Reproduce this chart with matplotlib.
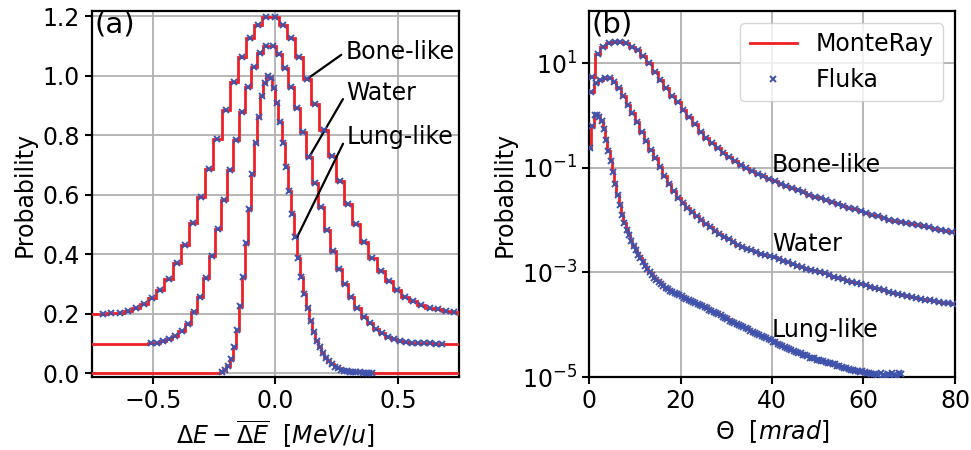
import numpy as np
import matplotlib
matplotlib.use("Agg")
import matplotlib.pyplot as plt

plt.rcParams["font.family"] = ["DejaVu Sans"]
plt.rcParams["font.size"] = 17
plt.rcParams["mathtext.fontset"] = "dejavusans"

RED = "#ee2026"
BLUE = "#3f53ad"

# ---------------- Panel (a): energy-loss straggling ----------------
# first bin centre and bin width (MeV/u)
bone_a_start, bone_a_width = -0.7037, 1 / 30
water_a_start, water_a_width = -0.508, 0.0248
lung_a_start, lung_a_width = -0.219, 0.0125
bone_a_offset, water_a_offset, lung_a_offset = 0.2, 0.1, 0.0

bone_a = [0.201, 0.202, 0.204, 0.210, 0.219, 0.232, 0.252, 0.280, 0.318, 0.371,
          0.431, 0.506, 0.594, 0.688, 0.788, 0.885, 0.979, 1.062, 1.126, 1.171,
          1.199, 1.199, 1.171, 1.126, 1.062, 0.988, 0.906, 0.819, 0.732, 0.647,
          0.570, 0.502, 0.440, 0.389, 0.345, 0.310, 0.280, 0.258, 0.243, 0.230,
          0.221, 0.215, 0.209, 0.205]
water_a = [0.101, 0.103, 0.108, 0.114, 0.126, 0.143, 0.166, 0.207, 0.258, 0.319,
           0.395, 0.484, 0.582, 0.683, 0.785, 0.879, 0.963, 1.031, 1.076, 1.100,
           1.100, 1.074, 1.025, 0.961, 0.891, 0.810, 0.726, 0.640, 0.560, 0.482,
           0.412, 0.352, 0.299, 0.255, 0.221, 0.190, 0.168, 0.149, 0.134, 0.123,
           0.114, 0.109, 0.104, 0.103, 0.102, 0.101, 0.101, 0.100, 0.100]
lung_a = [0.003, 0.011, 0.025, 0.047, 0.087, 0.146, 0.226, 0.325, 0.437, 0.552,
          0.669, 0.775, 0.863, 0.932, 0.975, 1.000, 0.993, 0.958, 0.908, 0.846,
          0.773, 0.694, 0.613, 0.534, 0.457, 0.387, 0.325, 0.267, 0.218, 0.176,
          0.140, 0.110, 0.087, 0.067, 0.052, 0.041, 0.030, 0.022, 0.017, 0.012,
          0.009, 0.007, 0.005, 0.004, 0.003, 0.003, 0.002, 0.002, 0.001, 0.001]

# ---------------- Panel (b): angular distributions ----------------
bone_b_width, water_b_width, lung_b_width = 1.25, 1.0, 0.5   # mrad
# values read as log10(probability)
bone_b_log = [0.74, 1.18, 1.32, 1.38, 1.41, 1.41, 1.38, 1.32, 1.25, 1.13,
              1.00, 0.83, 0.68, 0.53, 0.38, 0.25, 0.11, -0.03, -0.17, -0.31,
              -0.42, -0.53, -0.62, -0.71, -0.79, -0.87, -0.94, -1.00, -1.06, -1.11,
              -1.16, -1.21, -1.25, -1.30, -1.35, -1.39, -1.43, -1.47, -1.51, -1.55,
              -1.58, -1.62, -1.65, -1.69, -1.73, -1.76, -1.79, -1.83, -1.86, -1.90,
              -1.93, -1.96, -1.99, -2.02, -2.04, -2.06, -2.08, -2.10, -2.12, -2.14,
              -2.17, -2.19, -2.20, -2.22]
water_b_log = [0.45, 0.62, 0.68, 0.72, 0.71, 0.65, 0.52, 0.37, 0.21, 0.05,
               -0.12, -0.31, -0.48, -0.65, -0.82, -0.99, -1.16, -1.30, -1.44, -1.57,
               -1.68, -1.77, -1.85, -1.92, -1.99, -2.07, -2.14, -2.20, -2.26, -2.32,
               -2.37, -2.42, -2.47, -2.51, -2.55, -2.58, -2.61, -2.64, -2.66, -2.69,
               -2.71, -2.75, -2.78, -2.81, -2.84, -2.87, -2.90, -2.93, -2.95, -2.97,
               -2.99, -3.02, -3.05, -3.08, -3.11, -3.13, -3.16, -3.18, -3.20, -3.22,
               -3.24, -3.27, -3.29, -3.32, -3.34, -3.37, -3.39, -3.41, -3.44, -3.46,
               -3.47, -3.49, -3.50, -3.52, -3.53, -3.55, -3.56, -3.58, -3.59, -3.61]
lung_b_log = [-0.62, -0.20, 0.01, 0.01, -0.02, -0.11, -0.25, -0.46, -0.67, -0.86,
              -1.08, -1.30, -1.52, -1.72, -1.90, -2.05, -2.18, -2.29, -2.40, -2.49,
              -2.57, -2.66, -2.73, -2.81, -2.87, -2.93, -2.99, -3.05, -3.10, -3.14,
              -3.18, -3.22, -3.26, -3.29, -3.32, -3.35, -3.38, -3.40, -3.42, -3.44,
              -3.46, -3.48, -3.50, -3.52, -3.54, -3.56, -3.58, -3.60, -3.62, -3.64,
              -3.66, -3.68, -3.71, -3.73, -3.75, -3.78, -3.80, -3.82, -3.85, -3.87,
              -3.89, -3.92, -3.94, -3.96, -3.99, -4.01, -4.03, -4.05, -4.07, -4.09,
              -4.12, -4.14, -4.16, -4.18, -4.20, -4.22, -4.24, -4.26, -4.28, -4.30,
              -4.33, -4.34, -4.36, -4.39, -4.40, -4.42, -4.44, -4.47, -4.48, -4.50,
              -4.53, -4.54, -4.55, -4.58, -4.58, -4.60, -4.63, -4.63, -4.64, -4.67,
              -4.67, -4.70, -4.70, -4.71, -4.73, -4.74, -4.76, -4.76, -4.79, -4.79,
              -4.80, -4.82, -4.83, -4.84, -4.86, -4.86, -4.88, -4.88, -4.90, -4.89,
              -4.91, -4.93, -4.92, -4.95, -4.94, -4.95, -4.97, -4.93, -4.96, -4.98,
              -4.94, -4.97, -4.92, -4.96, -4.99, -4.93, -4.95]
lung_b_monteray_bins = 126   # MonteRay statistics end earlier than Fluka

fig = plt.figure(figsize=(9.71, 4.5), dpi=100)
ax1 = fig.add_axes([0.0947, 0.1622, 0.3780, 0.8134])
ax2 = fig.add_axes([0.6066, 0.1622, 0.3769, 0.8134])


def draw_a(ax, start, width, vals, offset, label_line=None, label_pts=None):
    vals = np.asarray(vals)
    n = len(vals)
    centers = start + width * np.arange(n)
    edges = np.concatenate([[-5.0], start - width / 2 + width * np.arange(n + 1), [5.0]])
    ext = np.concatenate([[offset], vals, [offset]])
    ax.stairs(ext, edges, baseline=None, color=RED, lw=2.0, zorder=3, label=label_line)
    ax.plot(centers, vals, "x", color=BLUE, ms=3.8, mew=1.4, zorder=4, label=label_pts)


for ax in (ax1, ax2):
    ax.grid(True, color="#b0b0b0", lw=1.3, zorder=0)
    ax.set_axisbelow(True)
    for s in ax.spines.values():
        s.set_linewidth(1.6)
    ax.tick_params(direction="out", length=5, width=1.5, labelsize=17)

draw_a(ax1, bone_a_start, bone_a_width, bone_a, bone_a_offset)
draw_a(ax1, water_a_start, water_a_width, water_a, water_a_offset)
draw_a(ax1, lung_a_start, lung_a_width, lung_a, lung_a_offset)
ax1.set_xlim(-0.75, 0.75)
ax1.set_ylim(-0.0125, 1.218)
ax1.set_xticks([-0.5, 0.0, 0.5])
ax1.set_yticks([0.0, 0.2, 0.4, 0.6, 0.8, 1.0, 1.2])
ax1.set_xlabel(r"$\Delta E - \overline{\Delta E}\ \ [MeV/u]$")
ax1.set_ylabel("Probability")
ax1.text(0.008, 1.0, "(a)", transform=ax1.transAxes, ha="left", va="top", fontsize=21)

arrow = dict(arrowstyle="-", color="black", lw=1.6, relpos=(0, 0.5), shrinkA=1, shrinkB=0)
ax1.annotate("Bone-like", xy=(0.127, 0.988), xytext=(0.285, 1.08), ha="left", va="center",
             arrowprops=arrow)
ax1.annotate("Water", xy=(0.137, 0.726), xytext=(0.29, 0.942), ha="left", va="center",
             arrowprops=arrow)
ax1.annotate("Lung-like", xy=(0.088, 0.457), xytext=(0.29, 0.795), ha="left", va="center",
             arrowprops=arrow)


def draw_b(ax, width, logvals, n_line=None, label_line=None, label_pts=None):
    vals = 10.0 ** np.asarray(logvals)
    n = len(vals)
    centers = width / 2 + width * np.arange(n)
    m = n if n_line is None else n_line
    edges = width * np.arange(m + 1)
    ax.stairs(vals[:m], edges, baseline=None, color=RED, lw=2.0, zorder=3, label=label_line)
    ax.plot(centers, vals, "x", color=BLUE, ms=3.8, mew=1.4, zorder=4, label=label_pts)


draw_b(ax2, bone_b_width, bone_b_log, label_line="MonteRay", label_pts="Fluka")
draw_b(ax2, water_b_width, water_b_log)
draw_b(ax2, lung_b_width, lung_b_log, n_line=lung_b_monteray_bins)
ax2.set_yscale("log")
ax2.set_xlim(0, 80)
ax2.set_ylim(1e-5, 1e2)
ax2.set_xticks([0, 20, 40, 60, 80])
ax2.set_yticks([1e-5, 1e-3, 1e-1, 1e1])
ax2.yaxis.set_minor_locator(matplotlib.ticker.NullLocator())
ax2.set_xlabel(r"$\Theta\ \ [mrad]$")
ax2.set_ylabel("Probability")
ax2.text(0.008, 1.0, "(b)", transform=ax2.transAxes, ha="left", va="top", fontsize=21)
ax2.text(40, 0.112, "Bone-like", ha="left", va="center")
ax2.text(40, 3.5e-3, "Water", ha="left", va="center")
ax2.text(40, 7.8e-5, "Lung-like", ha="left", va="center")
leg = ax2.legend(loc="upper right", fontsize=17, markerscale=1.0)

fig.savefig("out.png", dpi=100)
